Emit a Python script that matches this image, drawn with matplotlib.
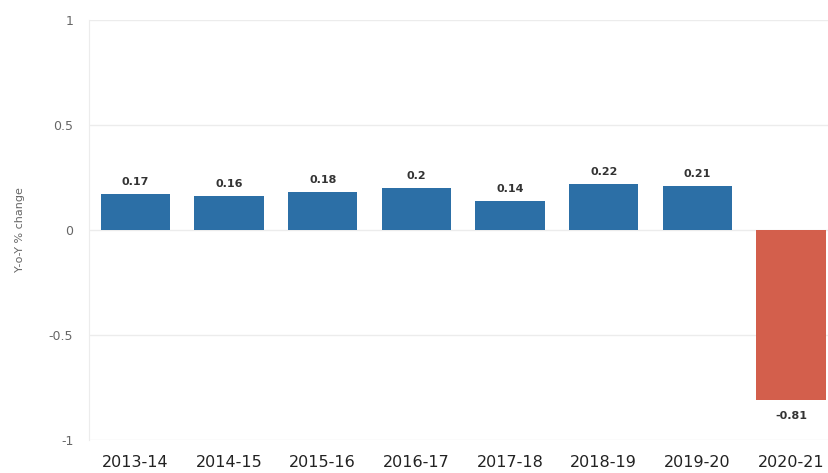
import matplotlib.pyplot as plt
import numpy as np

years = ["2013-14", "2014-15", "2015-16", "2016-17", "2017-18", "2018-19", "2019-20", "2020-21"]
yoy_change = [0.17, 0.16, 0.18, 0.2, 0.14, 0.22, 0.21, -0.81]

fig = plt.figure(figsize=(8.29, 4.73), dpi=100)
ax = fig.add_axes([0.1068, 0.0698, 0.904, 0.888])

colors = ["#2c6fa6" if v >= 0 else "#d35f4c" for v in yoy_change]
x = np.arange(len(years))
bars = ax.bar(x, yoy_change, width=0.74, color=colors, zorder=3)

for xi, v in zip(x, yoy_change):
    if v >= 0:
        ax.annotate(str(v), (xi, v), xytext=(0, 5), textcoords="offset points",
                    ha="center", va="bottom", fontsize=8, fontweight="bold", color="#333333")
    else:
        ax.annotate(str(v), (xi, v), xytext=(0, -8), textcoords="offset points",
                    ha="center", va="top", fontsize=8, fontweight="bold", color="#333333")

ax.set_xlim(-0.5, len(years) - 0.5)
ax.set_ylim(-1, 1)
ax.set_yticks([-1, -0.5, 0, 0.5, 1])
ax.set_yticklabels(["-1", "-0.5", "0", "0.5", "1"])
ax.set_xticks(x)
ax.set_xticklabels(years, fontsize=11.5, color="#222222")
ax.tick_params(axis="y", labelsize=9, labelcolor="#666666", length=0, pad=11)
ax.tick_params(axis="x", length=0, pad=11)

ax.grid(axis="y", color="#ececec", linewidth=1, zorder=0)
for side in ["top", "right", "bottom"]:
    ax.spines[side].set_visible(False)
ax.spines["left"].set_color("#ececec")

ax.set_ylabel("Y-o-Y % change", fontsize=8, color="#666666", labelpad=17)

fig.savefig("out.png", dpi=100)
